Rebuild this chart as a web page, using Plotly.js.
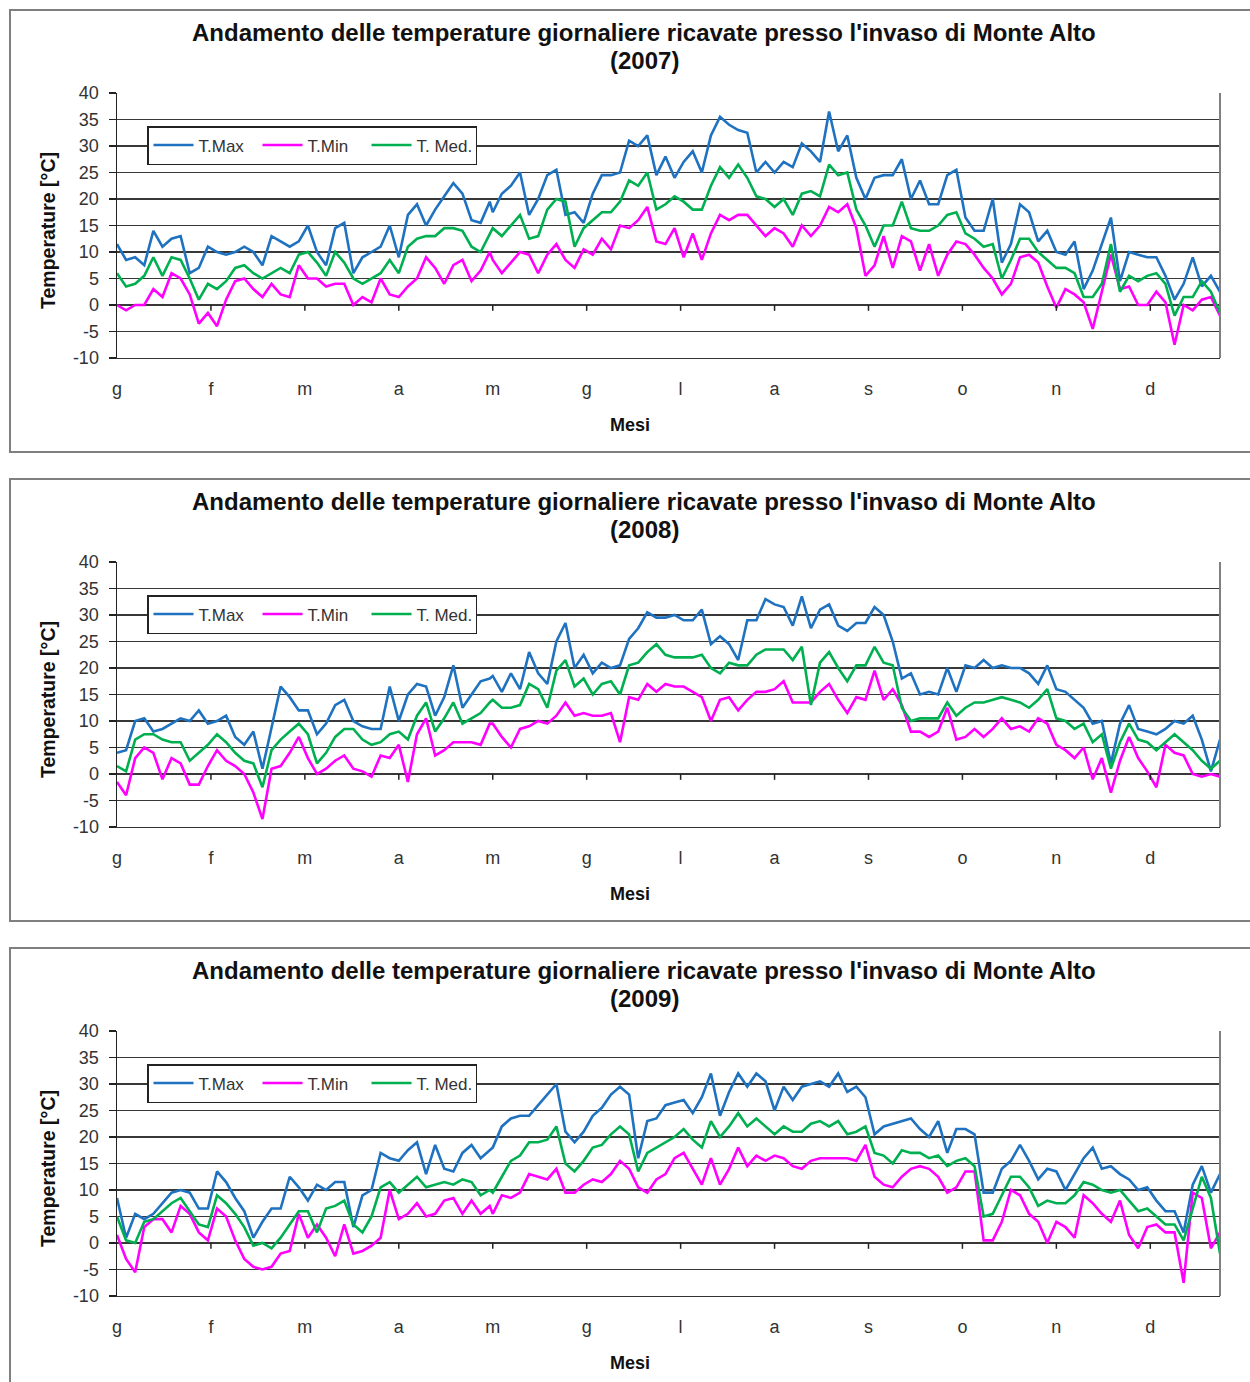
<!DOCTYPE html>
<html>
<head>
<meta charset="utf-8">
<script src="https://cdn.plot.ly/plotly-3.0.1.min.js"></script>
<style>
  html, body { margin: 0; padding: 0; background: #ffffff; }
  #chart { width: 1250px; height: 1382px; }
</style>
</head>
<body>
<div id="chart"></div>
<script>
// ---------- DATA ----------
const days = [1,4,7,10,13,16,19,22,25,28,31,34,37,40,43,46,49,52,55,58,61,64,67,70,73,76,79,82,85,88,91,94,97,100,103,106,109,112,115,118,121,124,
  125,128,131,134,137,140,143,146,149,152,155,158,161,164,167,170,173,176,179,182,185,188,191,194,197,200,203,206,209,212,215,218,221,224,227,230,233,236,239,242,245,248,
  251,254,257,260,263,266,269,272,275,278,281,284,287,290,293,296,299,302,305,308,311,314,317,320,323,326,329,332,335,338,341,344,347,350,353,356,359,362,365];

const monthTicks = [1,32,63,94,125,156,187,218,249,280,311,342];
const monthLabels = ['g','f','m','a','m','g','l','a','s','o','n','d'];
const tempTicks = [-10,-5,0,5,10,15,20,25,30,35,40];
const tempLabels = ['-10','-5','0','5','10','15','20','25','30','35','40'];
const years = ['2007','2008','2009'];
const seriesNames = ['T.Max','T.Min','T. Med.'];

const tmax2007 = [11.5,8.5,9,7.5,14,11,12.5,13,6,7, 11,10,9.5,10,11,10,7.5,13,12,11, 12,15,10,7.5,14.5,15.5,6,9,10,11, 15,9,17,19,15,18,20.5,23,21,16, 15.5,19.5,
  17.5,21,22.5,25,17,20,24.5,25.5,17,17.5, 15.5,21,24.5,24.5,25,31,30,32,24.5,28, 24,27,29,25,32,35.5,34,33,32.5,25, 27,25,27,26,30.5,29,27,36.5,29,32, 24,20,
  24,24.5,24.5,27.5,20,23.5,19,19,24.5,25.5, 16.5,14,14,20,8,11.5,19,17.5,12,14, 10,9.5,12,3,6.5,11.5,16.5,4.5,10,9.5, 9,9,5.5,1,4,9,3.5,5.5,2.5];
const tmin2007 = [0,-1,0,0,3,1.5,6,5,2,-3.5, -1.5,-4,1,4.5,5,3,1.5,4,2,1.5, 7.5,5,5,3.5,4,4,0,1.5,0.5,5, 2,1.5,3.5,5,9,7,4,7.5,8.5,4.5, 6.5,10,
  8.5,6,8,10,9.5,6,9.5,11.5,8.5,7, 10.5,9.5,12.5,10.5,15,14.5,16,18.5,12,11.5, 14.5,9,13.5,8.5,13.5,17,16,17,17,15, 13,14.5,13.5,11,15,13,15,18.5,17.5,19, 14.5,5.5,
  7.5,13,7,13,12,6.5,11.5,5.5,9.5,12, 11.5,9.5,7,5,2,4,9,9.5,8,3.5, -0.5,3,2,0.5,-4.5,2.5,9.5,3,3.5,0, 0,2.5,0.5,-7.5,0,-1,1,1.5,-2];
const tmed2007 = [6,3.5,4,5.5,9,5.5,9,8.5,5,1, 4,3,4.5,7,7.5,6,5,6,7,6, 9.5,10,8,5.5,10,8,5,4,5,6, 8.5,6,11,12.5,13,13,14.5,14.5,14,11, 10,13.5,
  14.5,13,15,17,12.5,13,18,20,19.5,11, 14.5,16,17.5,17.5,19.5,23.5,22.5,25,18,19, 20.5,19.5,18,18,22.5,26,24,26.5,24,20.5, 20,18.5,20,17,21,21.5,20.5,26.5,24.5,25, 18,15,
  11,15,15,19.5,14.5,14,14,15,17,17.5, 13.5,12.5,11,11.5,5,8.5,12.5,12.5,10,8.5, 7,7,6,1.5,1.5,4,11.5,2.5,5.5,4.5, 5.5,6,4,-2,1.5,1.5,4.5,2.5,-1.5];

const tmax2008 = [4,4.5,10,10.5,8,8.5,9.5,10.5,10,12, 9.5,10,11,7,5.5,8,1,9,16.5,14.5, 12,12,7.5,9.5,13,14,10,9,8.5,8.5, 16.5,10,15,17,16.5,11,14.5,20.5,12.5,15, 17.5,18,
  18.5,15.5,19,16,23,19,17,25,28.5,20, 22.5,19,21,20,20.5,25.5,27.5,30.5,29.5,29.5, 30,29,29,31,24.5,26,24.5,21.5,29,29, 33,32,31.5,28,33.5,27.5,31,32,28,27, 28.5,28.5,
  31.5,30,25,18,19,15,15.5,15,20,15.5, 20.5,20,21.5,20,20.5,20,20,19,17,20.5, 16,15.5,14,12.5,9.5,10,2,9.5,13,8.5, 8,7.5,8.5,10,9.5,11,6.5,0.5,6.5];
const tmin2008 = [-1.5,-4,3,5,4,-1,3,2,-2,-2, 1.5,4.5,2.5,1.5,0,-3.5,-8.5,1,1.5,4, 7,3,0,1,2.5,3.5,1,0.5,-0.5,3.5, 3,5.5,-1.5,7.5,10.5,3.5,4.5,6,6,6, 5.5,9.5,
  9.5,7,5,8.5,9,10,9.5,11,13.5,11, 11.5,11,11,11.5,6,14.5,14,17,15.5,17, 16.5,16.5,15.5,14.5,10,14,14.5,12,14,15.5, 15.5,16,17.5,13.5,13.5,13.5,15.5,17,14,11.5, 14.5,14,
  19.5,14,16,13,8,8,7,8,12.5,6.5, 7,8.5,7,8.5,10.5,8.5,9,8,10.5,9.5, 5.5,4.5,3,5,-1,3,-3.5,2.5,7,3, 0.5,-2.5,5.5,4,3.5,0,-0.5,0,-0.5];
const tmed2008 = [1.5,0.5,6.5,7.5,7.5,6.5,6,6,2.5,4, 5.5,7.5,6,4,2.5,2,-2.5,4.5,6.5,8, 9.5,7.5,2,4,7,8.5,8.5,6.5,5.5,6, 7.5,8,6.5,11,13.5,8,10.5,13.5,9.5,10.5, 11.5,13.5,
  14,12.5,12.5,13,17,16,12.5,19.5,21.5,16.5, 18,15,17,17.5,15,20.5,21,23,24.5,22.5, 22,22,22,22.5,20,19,21,20.5,20.5,22.5, 23.5,23.5,23.5,21.5,24,13,21,23,20,17.5, 20.5,20.5,
  24,21,20.5,12.5,10,10.5,10.5,10.5,13.5,11, 12.5,13.5,13.5,14,14.5,14,13.5,12.5,14,16, 10.5,10,8.5,9.5,6,7.5,1,6,9.5,6.5, 6,4.5,6,7.5,6,4.5,2.5,1,2.5];

const tmax2009 = [8.5,1,5.5,4.5,5.5,7.5,9.5,10,9.5,6.5, 6.5,13.5,11.5,8.5,6,1,4,6.5,6.5,12.5, 10.5,8,11,10,11.5,11.5,3,9,10,17, 16,15.5,17.5,19,13,18.5,14,13.5,17,18.5, 16,17.5,
  18,22,23.5,24,24,26,28,30,21,19, 21,24,25.5,28,29.5,28,16,23,23.5,26, 26.5,27,24.5,27.5,32,24,28.5,32,29.5,32, 30.5,25,29.5,27,29.5,30,30.5,29.5,32,28.5, 29.5,27.5,
  20.5,22,22.5,23,23.5,21.5,20,23,17,21.5, 21.5,20.5,9.5,9.5,14,15.5,18.5,15.5,12,14, 13.5,10,13,16,18,14,14.5,13,12,10, 10.5,8,6,6,2,11,14.5,9.5,13];
const tmin2009 = [1.5,-3,-5.5,3,4.5,4.5,2,7,5.5,2, 0.5,6.5,5,0.5,-3,-4.5,-5,-4.5,-2,-1.5, 5.5,1,3.5,1,-2.5,3.5,-2,-1.5,-0.5,1, 10,4.5,5.5,7.5,5,5.5,8,8.5,5.5,8, 5.5,7,
  5.5,9,8.5,9.5,13,12.5,12,14,9.5,9.5, 11,12,11.5,13,15.5,14,10.5,9.5,12,13, 16,17,14,11,16,11,14,18,14.5,16.5, 15.5,16.5,16,14.5,14,15.5,16,16,16,16, 15.5,18.5,
  12.5,11,10.5,12.5,14,14.5,14,12.5,9.5,10.5, 13.5,13.5,0.5,0.5,4,10,9,5.5,4,0, 4,3,1,9,7.5,5.5,4,8,1.5,-1, 3,3.5,2,2,-7.5,9.5,8.5,-1,2];
const tmed2009 = [5,0.5,0,4,4.5,6,7.5,8.5,6,3.5, 3,9,7.5,5.5,3,-0.5,0,-1,1,3.5, 6,6,2,6.5,7,8,3.5,2,5,10.5, 11.5,9.5,11,12.5,10.5,11,11.5,11,12,11.5, 9,10,
  9.5,12.5,15.5,16.5,19,19,19.5,22,15,13.5, 15.5,18,18.5,20.5,22,20.5,13.5,17,18,19, 20,21.5,19.5,18,23,20,22,24.5,22,23.5, 22,20.5,22,21,21,22.5,23,22,23,20.5, 21,22,
  17,16.5,15,17.5,17,17,16,16.5,14.5,15.5, 16,14.5,5,5.5,9,12.5,12.5,10.5,7,8, 7.5,7.5,9,11.5,11,10,9.5,10,8,6, 6.5,5,3.5,3.5,0.5,6.5,12.5,8.5,-2];

// ---------- CHART ----------
const W = 1250, H = 1382;
const px = p => p / W;
const py = p => 1 - p / H;
const FONT = 'Liberation Sans, Arial, Helvetica, sans-serif';
const colors = ['#1f72c0', '#ff00ff', '#00b050'];
const allSeries = [[tmax2007, tmin2007, tmed2007], [tmax2008, tmin2008, tmed2008], [tmax2009, tmin2009, tmed2009]];
const offsets = [0, 469, 938];

const data = [];
const layout = {
  width: W, height: H, autosize: false,
  margin: { l: 0, r: 0, t: 0, b: 0 },
  paper_bgcolor: '#ffffff', plot_bgcolor: '#ffffff',
  showlegend: true,
  shapes: [], annotations: []
};

for (let i = 0; i < 3; i++) {
  const o = offsets[i];
  const sfx = i === 0 ? '' : String(i + 1);
  const xa = 'x' + sfx, ya = 'y' + sfx;
  const legKey = i === 0 ? 'legend' : 'legend' + (i + 1);

  layout['xaxis' + sfx] = {
    domain: [px(117), px(1220)], range: [1, 365], anchor: ya,
    tickmode: 'array', tickvals: monthTicks, ticktext: monthLabels,
    showgrid: false, zeroline: false, showline: true, linecolor: '#333', linewidth: 1.3,
    ticks: 'outside', ticklen: 14, tickcolor: 'rgba(0,0,0,0)',
    tickfont: { family: FONT, size: 18, color: '#333' }, fixedrange: true
  };
  layout['yaxis' + sfx] = {
    domain: [py(358 + o), py(93 + o)], range: [-10, 40], anchor: xa,
    tickmode: 'array', tickvals: tempTicks, ticktext: tempLabels,
    showgrid: true, gridcolor: '#383838', gridwidth: 1.3,
    zeroline: false, showline: true, linecolor: '#222', linewidth: 1.5,
    ticks: 'outside', ticklen: 7, tickcolor: '#222', tickwidth: 1.3,
    ticklabelstandoff: 6,
    tickfont: { family: FONT, size: 18, color: '#333' }, fixedrange: true
  };
  layout[legKey] = {
    x: px(147), y: py(126 + o), xanchor: 'left', yanchor: 'top', orientation: 'h',
    bgcolor: '#ffffff', bordercolor: '#222', borderwidth: 1.5,
    entrywidth: 54, entrywidthmode: 'pixels', itemwidth: 40,
    font: { family: FONT, size: 17, color: '#333' }
  };

  for (let s = 0; s < 3; s++) {
    data.push({
      type: 'scatter', mode: 'lines', x: days, y: allSeries[i][s],
      name: seriesNames[s], xaxis: xa, yaxis: ya, legend: legKey,
      line: { color: colors[s], width: 2.6 }, hoverinfo: 'x+y+name'
    });
  }

  // titles
  layout.annotations.push({
    text: "<b>Andamento delle temperature giornaliere ricavate presso l'invaso di Monte Alto</b>",
    xref: 'paper', yref: 'paper', x: px(644), y: py(32 + o), xanchor: 'center', yanchor: 'middle',
    showarrow: false, font: { family: FONT, size: 24, color: '#111' }
  });
  layout.annotations.push({
    text: '<b>(' + years[i] + ')</b>',
    xref: 'paper', yref: 'paper', x: px(644), y: py(60 + o), xanchor: 'center', yanchor: 'middle',
    showarrow: false, font: { family: FONT, size: 24, color: '#111' }
  });
  layout.annotations.push({
    text: '<b>Mesi</b>',
    xref: 'paper', yref: 'paper', x: px(630), y: py(425 + o), xanchor: 'center', yanchor: 'middle',
    showarrow: false, font: { family: FONT, size: 18, color: '#111' }
  });
  layout.annotations.push({
    text: '<b>Temperature [°C]</b>', textangle: -90,
    xref: 'paper', yref: 'paper', x: px(48), y: py(230 + o), xanchor: 'center', yanchor: 'middle',
    showarrow: false, font: { family: FONT, size: 19.5, color: '#111' }
  });

  // panel frame
  layout.shapes.push({
    type: 'rect', xref: 'paper', yref: 'paper', layer: 'below',
    x0: px(10), x1: px(1262), y0: py(i === 2 ? 1400 : 452 + o), y1: py(10 + o),
    line: { color: '#7f7f7f', width: 2 }, fillcolor: 'rgba(0,0,0,0)'
  });
  // right border of plot area
  layout.shapes.push({
    type: 'line', xref: xa + ' domain', yref: ya + ' domain', x0: 1, x1: 1, y0: 0, y1: 1,
    line: { color: '#808080', width: 2 }
  });
  // month tick marks on the zero line
  monthTicks.slice(1).forEach(t => {
    layout.shapes.push({
      type: 'line', xref: xa, yref: ya, x0: t, x1: t, y0: 0, y1: -1.1,
      line: { color: '#222', width: 1.5 }
    });
  });
}

Plotly.newPlot('chart', data, layout, { displayModeBar: false, staticPlot: true });
</script>
</body>
</html>
